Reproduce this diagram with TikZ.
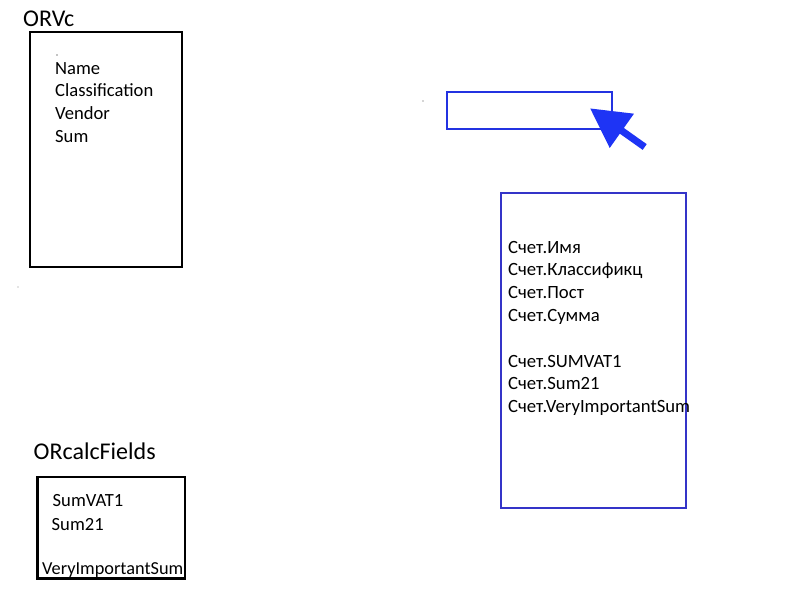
\documentclass[tikz,border=0pt]{standalone}
\usepackage{fontspec}
\setmainfont{Carlito}
\usetikzlibrary{arrows.meta}
\definecolor{arrowblue}{RGB}{30,52,245}
\definecolor{boxblue}{RGB}{35,50,225}
\definecolor{bigblue}{RGB}{52,52,200}
\begin{document}
\begin{tikzpicture}[x=1pt,y=-1pt,
  blackframe/.style={draw=black,line width=2.4pt,inner sep=0pt,outer sep=0pt},
  blueframe/.style={draw=#1,line width=2pt,inner sep=0pt,outer sep=0pt},
  titletext/.style={anchor=base west,inner sep=0pt,font=\fontsize{24pt}{28pt}\selectfont},
  listtext/.style={anchor=base west,inner sep=0pt,font=\fontsize{18.6pt}{22.8pt}\selectfont},
  dotmark/.style={fill=#1,draw=none,circle,inner sep=0pt,minimum size=1.3pt}]
\useasboundingbox (0,0) rectangle (800,600);
\fill[white] (0,0) rectangle (800,600);

% ORVc
\node[titletext] (orvctitle) at (23,26) {ORVc};
\node[blackframe,minimum width=152pt,minimum height=235pt] (orvc) at (106,149.5) {};
\node[listtext] (orvclist) at (55,74) {\parbox[t]{120pt}{\fontsize{18.6pt}{22.7pt}\selectfont Name\\Classification\\Vendor\\Sum}};
\node[dotmark=black] (dota) at (57,55) {};

% small blue box and arrow
\node[blueframe=boxblue,minimum width=165pt,minimum height=37pt] (smallbox) at (529.5,110.2) {};
\node[dotmark=black!70] (dotb) at (423,101) {};
\coordinate (atail) at (644.7,147);
\coordinate (atip) at (590,108.3);
\draw[arrowblue,line width=7pt,-{Triangle[length=39pt,width=40pt]}] (atail) -- (atip);

% big blue box
\node[blueframe=bigblue,minimum width=184.5pt,minimum height=315.5pt] (bigbox) at (593.25,350.25) {};
\node[listtext] (biglist) at (508,253) {\parbox[t]{220pt}{\fontsize{18.7pt}{22.8pt}\selectfont
  Счет.Имя\\Счет.Классификц\\Счет.Пост\\Счет.Сумма\\\mbox{}\\Счет.SUMVAT1\\Счет.Sum21\\Счет.VeryImportantSum}};

\node[dotmark=black!45] (dotc) at (18,287) {};

% ORcalcFields
\node[titletext] (calctitle) at (33.5,459.5) {ORcalcFields};
\node[blackframe,minimum width=147.5pt,minimum height=101.5pt] (calc) at (111.25,527.75) {};
\node[listtext] (f1) at (52.5,506) {SumVAT1};
\node[listtext] (f2) at (51.5,530.7) {Sum21};
\node[listtext,font=\fontsize{18.3pt}{22pt}\selectfont] (f3) at (42,574.3) {VeryImportantSum};
\end{tikzpicture}
\end{document}
